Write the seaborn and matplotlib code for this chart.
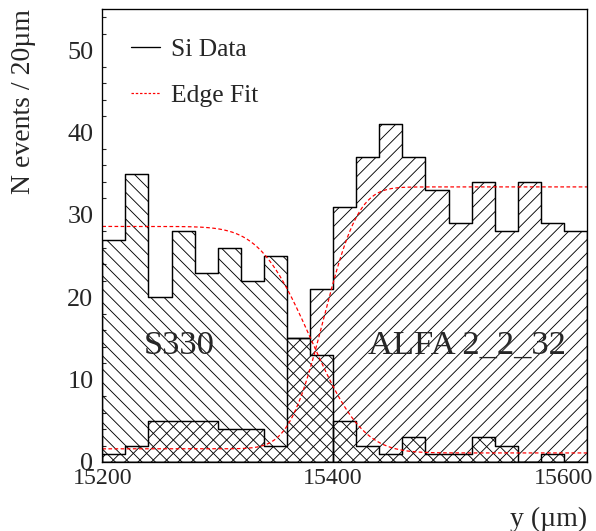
import math
import numpy as np
import pandas as pd
import seaborn as sns
import matplotlib.pyplot as plt
from matplotlib.lines import Line2D

# ======== data ================================
bin_lo, bin_w = 15200, 20
s330 = [27, 35, 20, 28, 23, 26, 22, 25, 15, 13, 5, 2, 1, 3, 1, 1, 3, 2, 0, 1, 0]
alfa = [1, 2, 5, 5, 5, 4, 4, 2, 15, 21, 31, 37, 41, 37, 33, 29, 34, 28, 34, 29, 28]
s330_split = 15400   # S330 outline is drawn in two pieces

# edge fits: (low, high, mu, sigma)
fit_s330 = (1.1, 28.6, 15381, 35)   # falling edge
fit_alfa = (1.6, 33.4, 15392, 23.5)  # rising edge

n_bins = len(s330)
edges = bin_lo + bin_w * np.arange(n_bins + 1)
bin_hi = edges[-1]
centers = 0.5 * (edges[:-1] + edges[1:])
df = pd.DataFrame({'y': np.tile(centers, 2),
                   'n': s330 + alfa,
                   'sensor': ['S330'] * n_bins + ['ALFA 2_2_32'] * n_bins})

# ======== style =========
sns.set_theme(style="white")
plt.rcParams['font.family'] = ['Liberation Serif', 'DejaVu Serif']
plt.rcParams['hatch.linewidth'] = 0.8

fig = plt.figure(figsize=(596 / 80, 531 / 80), dpi=80)
ax = fig.add_axes([102.3 / 596, 1 - 462 / 531, 484.7 / 596, 453 / 531])

# ======== histograms =========
d = df[df['sensor'] == 'S330']
for part, bins in [(d[d['y'] < s330_split], [e for e in edges if e <= s330_split]),
                   (d[d['y'] > s330_split], [e for e in edges if e >= s330_split])]:
    sns.histplot(data=part, x='y', weights='n', bins=bins,
                 element='step', fill=True, facecolor='none', color='black',
                 hatch='\\\\', linewidth=1.3, ax=ax)
sns.histplot(data=df[df['sensor'] == 'ALFA 2_2_32'], x='y', weights='n', bins=list(edges),
             element='step', fill=True, facecolor='none', color='black',
             hatch='//', linewidth=1.3, ax=ax)

# ======== edge fits =========
xs = np.linspace(bin_lo, bin_hi, 400)
erf = np.vectorize(math.erf)
lo, hi, mu, sg = fit_s330
f1 = lo + (hi - lo) * 0.5 * (1 - erf((xs - mu) / (np.sqrt(2) * sg)))
lo, hi, mu, sg = fit_alfa
f2 = lo + (hi - lo) * 0.5 * (1 + erf((xs - mu) / (np.sqrt(2) * sg)))
sns.lineplot(x=xs, y=f1, color='red', lw=1.1, ax=ax)
sns.lineplot(x=xs, y=f2, color='red', lw=1.1, ax=ax)
for ln in ax.lines[-2:]:
    ln.set_dashes((3, 2))

ax.text(15267, 13.1, 'S330', fontsize=31, ha='center', va='baseline')
ax.text(15516, 13.1, 'ALFA 2_2_32', fontsize=31, ha='center', va='baseline')

# ======== axes =========
ax.set_xlim(bin_lo, bin_hi)
ax.set_ylim(0, 55)
ax.set_xticks([15200, 15400, 15600])
ax.set_yticks(range(0, 51, 10))
ax.set_yticks(range(0, 55, 2), minor=True)
ax.tick_params(axis='y', which='major', direction='in', length=9, width=1, labelsize=23.5, pad=8)
ax.tick_params(axis='y', which='minor', direction='in', length=4, width=1, left=True)
ax.tick_params(axis='x', which='both', length=0, labelsize=21.5, pad=5)
for s in ax.spines.values():
    s.set_linewidth(1.2)
    s.set_color('black')

ax.set_xlabel('y (µm)', fontsize=25, loc='right')
ax.xaxis.set_label_coords(1.0, -0.1)
ax.set_ylabel('N events / 20µm', fontsize=25, loc='top')
ax.yaxis.set_label_coords(-0.137, 1.0)

handles = [Line2D([], [], color='black', lw=1.2),
           Line2D([], [], color='red', lw=1.1, dashes=(2, 1.5))]
ax.legend(handles, ['Si Data', 'Edge Fit'], loc='upper left', bbox_to_anchor=(0.059, 0.935),
          frameon=False, fontsize=23, handlelength=1.15, handletextpad=0.4,
          labelspacing=0.9, borderpad=0, borderaxespad=0)

fig.savefig('out.png', dpi=80)
